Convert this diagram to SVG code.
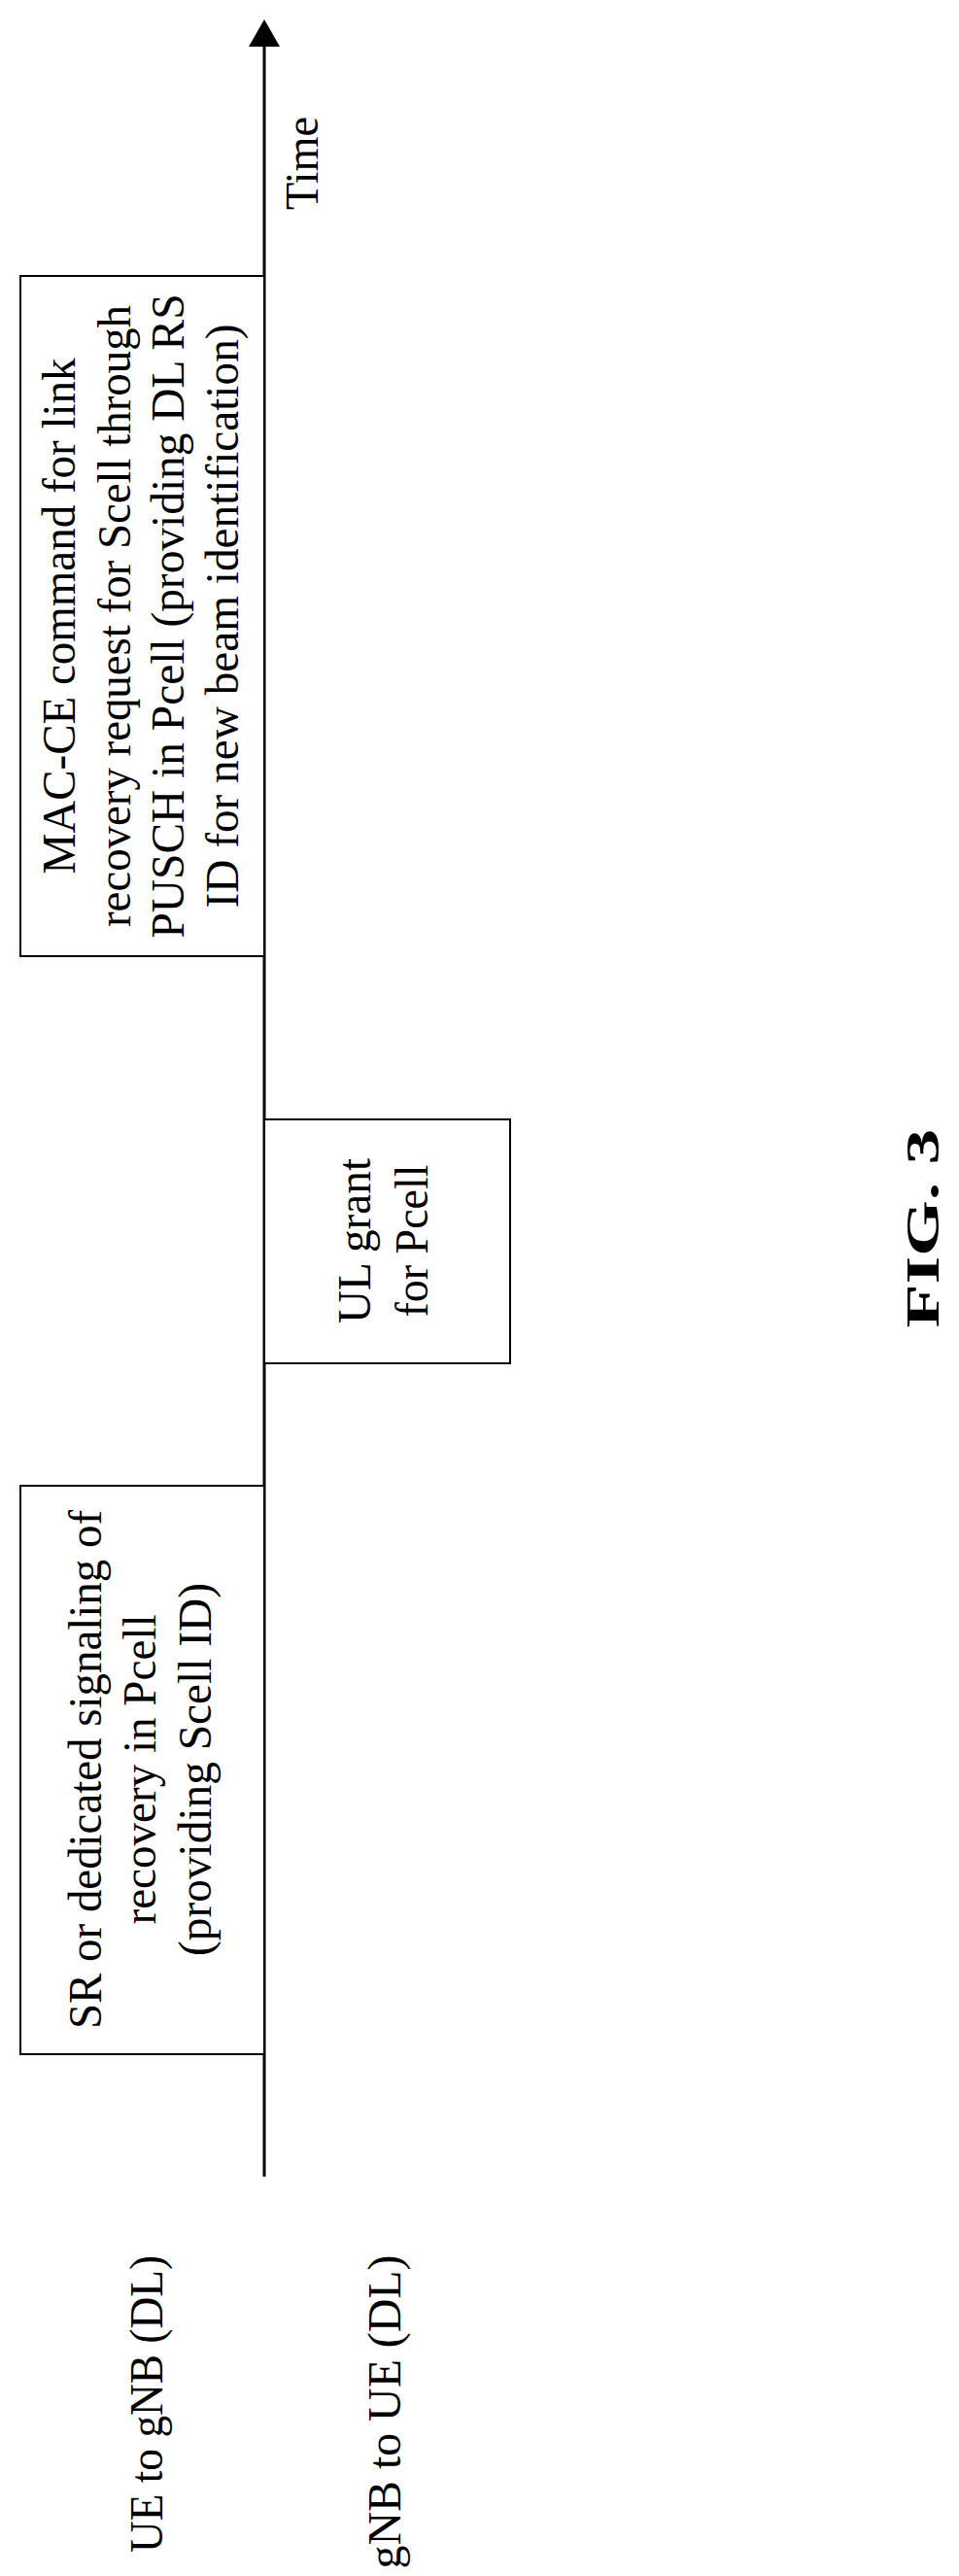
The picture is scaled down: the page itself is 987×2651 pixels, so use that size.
<svg xmlns="http://www.w3.org/2000/svg" width="987" height="2651" viewBox="0 0 987 2651">
<style>
.b{fill:#fff;stroke:#000;stroke-width:2}
.t{font-family:"Liberation Serif",serif;font-size:48px;fill:#000;text-anchor:middle}
</style>
<rect width="987" height="2651" fill="#fff"/>
<g id="connectors">
<line x1="272" y1="2240" x2="272" y2="40" stroke="#000" stroke-width="3"/>
<polygon points="272,20 256,48 288,48" fill="#000"/>
</g>
<g id="time"><text class="t" font-size="44" transform="translate(327,168) rotate(-90)" textLength="96" lengthAdjust="spacingAndGlyphs">Time</text></g>
<g id="mac">
<rect class="b" x="21" y="284" width="251" height="700"/>
<g transform="translate(0,634) rotate(-90)">
<text class="t" x="0" y="77" textLength="531" lengthAdjust="spacingAndGlyphs">MAC-CE command for link</text>
<text class="t" x="0" y="134" textLength="640" lengthAdjust="spacingAndGlyphs">recovery request for Scell through</text>
<text class="t" x="0" y="189" textLength="663" lengthAdjust="spacingAndGlyphs">PUSCH in Pcell (providing DL RS</text>
<text class="t" x="0" y="245" textLength="601" lengthAdjust="spacingAndGlyphs">ID for new beam identification)</text>
</g>
</g>
<g id="ul">
<rect class="b" x="272" y="1152" width="253" height="251"/>
<g transform="translate(0,1277) rotate(-90)">
<text class="t" x="0" y="381" textLength="170" lengthAdjust="spacingAndGlyphs">UL grant</text>
<text class="t" x="0" y="440" textLength="157" lengthAdjust="spacingAndGlyphs">for Pcell</text>
</g>
</g>
<g id="sr">
<rect class="b" x="21" y="1529" width="251" height="585"/>
<g transform="translate(0,1821) rotate(-90)">
<text class="t" x="0" y="104" textLength="534" lengthAdjust="spacingAndGlyphs">SR or dedicated signaling of</text>
<text class="t" x="0" y="160" textLength="319" lengthAdjust="spacingAndGlyphs">recovery in Pcell</text>
<text class="t" x="0" y="217" textLength="384" lengthAdjust="spacingAndGlyphs">(providing Scell ID)</text>
</g>
</g>
<g id="ue"><text class="t" font-size="46" transform="translate(167,2474) rotate(-90)" textLength="306" lengthAdjust="spacingAndGlyphs">UE to gNB (DL)</text></g>
<g id="gnb"><text class="t" font-size="46" transform="translate(412,2482) rotate(-90)" textLength="323" lengthAdjust="spacingAndGlyphs">gNB to UE (DL)</text></g>
<g id="fig"><text class="t" font-size="76" font-weight="bold" transform="translate(966,1264) rotate(-90)" textLength="205" lengthAdjust="spacingAndGlyphs">FIG. 3</text></g>
</svg>
